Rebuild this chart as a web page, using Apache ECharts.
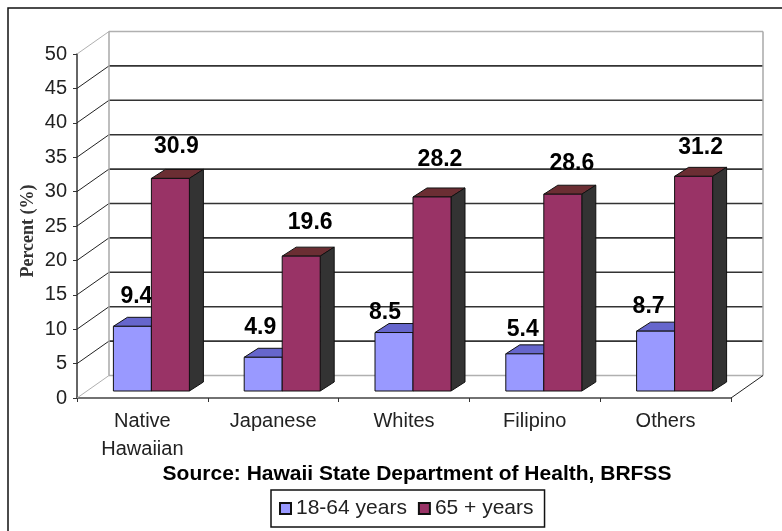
<!DOCTYPE html>
<html>
<head>
<meta charset="utf-8">
<style>html,body{margin:0;padding:0;background:#fff}#chart{width:782px;height:531px}</style>
<script src="https://cdn.jsdelivr.net/npm/echarts@6/dist/echarts.min.js"></script>
</head>
<body>
<div id="chart"></div>
<script>
var categories = ['Native\nHawaiian', 'Japanese', 'Whites', 'Filipino', 'Others'];
var youngValues = [9.4, 4.9, 8.5, 5.4, 8.7];
var olderValues = [30.9, 19.6, 28.2, 28.6, 31.2];
var yTicks = [0, 5, 10, 15, 20, 25, 30, 35, 40, 45, 50];

// label nudges, the original labels were dragged by hand
var youngNudge = [[-1, -30], [-8, -30], [-14, -20], [-7, -24], [-12, -24]];
var olderNudge = [[1, -32], [4, -33], [3, -37], [4, -31], [2, -29]];

var myChart = echarts.init(document.getElementById('chart'));

var WALL_X = 32, WALL_Y = -22.5;    // depth of the floor / side wall
var BAR_X = 10, BAR_Y = -7;         // front of bars sits a bit in from the axis plane
var DEPTH_X = 14, DEPTH_Y = -9;     // depth of each bar
var BAR_W = 38;
var font = '"Liberation Sans", Arial, sans-serif';

function poly(points, fill, stroke, width) {
    return {
        type: 'polygon',
        shape: {points: points},
        style: {fill: fill, stroke: stroke, lineWidth: width === undefined ? 1 : width}
    };
}

function barItem(side, colors, nudges) {
    return function (params, api) {
        var idx = params.dataIndex;
        var base = api.coord([idx, 0]);
        var top = api.coord([idx, api.value(1)]);
        var xl = base[0] + BAR_X + (side === 0 ? -BAR_W - 1 : -1);
        var xr = xl + BAR_W;
        var yb = base[1] + BAR_Y;
        var yt = top[1] + BAR_Y;
        var n = nudges[idx];
        return {
            type: 'group',
            children: [
                poly([[xl, yt], [xl + DEPTH_X, yt + DEPTH_Y], [xr + DEPTH_X, yt + DEPTH_Y], [xr, yt]], colors.top, '#111'),
                poly([[xr, yt], [xr + DEPTH_X, yt + DEPTH_Y], [xr + DEPTH_X, yb + DEPTH_Y], [xr, yb]], colors.side, '#111'),
                poly([[xl, yt], [xr, yt], [xr, yb], [xl, yb]], colors.front, '#111'),
                {
                    type: 'text',
                    z2: 50,
                    style: {
                        text: api.value(1).toFixed(1),
                        x: (xl + xr) / 2 + n[0] + 5,
                        y: yt + n[1],
                        align: 'center',
                        verticalAlign: 'middle',
                        font: 'bold 23px ' + font,
                        fill: '#000'
                    }
                }
            ]
        };
    };
}

function wallItem(params, api) {
    var v = api.value(0);
    var front = api.coord([0, v]);
    var gridRect = params.coordSys;
    var x0 = gridRect.x, x1 = gridRect.x + gridRect.width;
    var y = front[1];
    var isEdge = v === 0 || v === yTicks[yTicks.length - 1];
    var color = isEdge ? '#b0b0b0' : '#333';
    var wall = {stroke: color, lineWidth: isEdge ? 1.5 : 1.6};
    return {
        type: 'group',
        children: [
            {type: 'line', shape: {x1: x0, y1: y, x2: x0 + WALL_X, y2: y + WALL_Y}, style: {stroke: isEdge ? '#b0b0b0' : '#222', lineWidth: 1}},
            {type: 'line', shape: {x1: x0 + WALL_X, y1: y + WALL_Y, x2: x1 + WALL_X, y2: y + WALL_Y}, style: wall}
        ]
    };
}

function backEdges(params, api) {
    var gridRect = params.coordSys;
    var x0 = gridRect.x + WALL_X, x1 = gridRect.x + gridRect.width + WALL_X;
    var y0 = gridRect.y + WALL_Y, y1 = gridRect.y + gridRect.height + WALL_Y;
    var edge = {stroke: '#a8a8a8', lineWidth: 1.5};
    return {
        type: 'group',
        children: [
            {type: 'line', shape: {x1: x0, y1: y0, x2: x0, y2: y1}, style: edge},
            {type: 'line', shape: {x1: x1, y1: y0, x2: x1, y2: y1}, style: edge},
            {type: 'line', shape: {x1: x1 - WALL_X, y1: y1 - WALL_Y, x2: x1, y2: y1}, style: {stroke: '#222', lineWidth: 1}}
        ]
    };
}

var option = {
    animation: false,
    backgroundColor: '#fff',
    textStyle: {fontFamily: font},
    grid: {left: 77, right: 51, top: 54, bottom: 133},
    xAxis: {
        type: 'category',
        data: categories,
        axisLine: {lineStyle: {color: '#444', width: 1.5}},
        axisTick: {show: true, length: 4, lineStyle: {color: '#333'}},
        axisLabel: {color: '#222', fontSize: 20, lineHeight: 28, margin: 9, interval: 0, fontFamily: font}
    },
    yAxis: {
        type: 'value',
        min: 0,
        max: 50,
        interval: 5,
        axisLine: {show: true, lineStyle: {color: '#333', width: 1.5}},
        axisTick: {show: true, length: 4, lineStyle: {color: '#333'}},
        axisLabel: {color: '#222', fontSize: 20, margin: 10, fontFamily: font},
        splitLine: {show: false}
    },
    legend: {
        left: 271,
        top: 490,
        data: ['18-64 years', '65 + years'],
        icon: 'rect',
        itemWidth: 11,
        itemHeight: 11,
        itemGap: 11,
        padding: [8, 11, 8, 8],
        borderColor: '#111',
        borderWidth: 1.5,
        textStyle: {color: '#222', fontSize: 21, fontFamily: font}
    },
    graphic: [
        {type: 'rect', shape: {x: 8, y: 8, width: 800, height: 560}, style: {fill: 'none', stroke: '#111', lineWidth: 1.5}, silent: true, z: 0},
        {type: 'text', style: {text: 'Source: Hawaii State Department of Health, BRFSS', x: 417, y: 474, align: 'center', verticalAlign: 'middle', font: 'bold 21px ' + font, fill: '#000'}, z: 10},
        {type: 'text', x: 28, y: 231, rotation: Math.PI / 2, style: {text: 'Percent (%)', x: 0, y: 0, align: 'center', verticalAlign: 'middle', font: 'bold 18px "Liberation Serif", serif', fill: '#333'}, z: 10}
    ],
    series: [
        {
            name: 'walls',
            type: 'custom',
            renderItem: wallItem,
            data: yTicks.map(function (t) { return [t]; }),
            encode: {y: 0},
            silent: true,
            z: 1
        },
        {
            name: 'edges',
            type: 'custom',
            renderItem: backEdges,
            data: [[0]],
            silent: true,
            z: 1
        },
        {
            name: '18-64 years',
            type: 'custom',
            renderItem: barItem(0, {front: '#9999ff', top: '#6666cc', side: '#5a5ab0'}, youngNudge),
            itemStyle: {color: '#9999ff', borderColor: '#111', borderWidth: 1},
            data: youngValues.map(function (v, i) { return [i, v]; }),
            encode: {x: 0, y: 1},
            z: 3
        },
        {
            name: '65 + years',
            type: 'custom',
            renderItem: barItem(1, {front: '#993366', top: '#6b2e33', side: '#333333'}, olderNudge),
            itemStyle: {color: '#993366', borderColor: '#111', borderWidth: 1},
            data: olderValues.map(function (v, i) { return [i, v]; }),
            encode: {x: 0, y: 1},
            z: 4
        }
    ]
};

myChart.setOption(option);
</script>
</body>
</html>
